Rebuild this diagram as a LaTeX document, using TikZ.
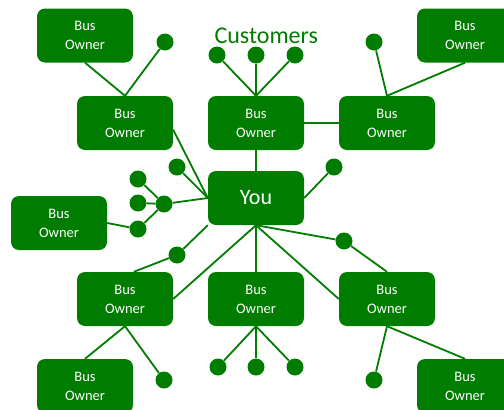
\documentclass[tikz,border=0pt]{standalone}
\usepackage{fontspec}
\setmainfont{Carlito}
\definecolor{busgreen}{RGB}{0,125,0}
\tikzset{
  owner/.style={fill=busgreen, rounded corners=8pt, minimum width=96pt,
    minimum height=54pt, inner sep=0pt, text=white, align=center,
    font=\fontsize{14.5}{19}\selectfont},
  cust/.style={circle, fill=busgreen, minimum size=17pt, inner sep=0pt},
  link/.style={draw=busgreen, line width=1.8pt}
}

\begin{document}
\begin{tikzpicture}[x=1pt, y=-1pt]

  \useasboundingbox (0,0) rectangle (504,410);
  \clip (0,0) rectangle (504,410);

  \node[owner] (oTL) at (85,35.5) {Bus\\Owner};
  \node[owner] (oTR) at (465,35.5) {Bus\\Owner};
  \node[owner] (oNW) at (125,123) {Bus\\Owner};
  \node[owner] (oN) at (256,123) {Bus\\Owner};
  \node[owner] (oNE) at (387,123) {Bus\\Owner};
  \node[owner, font=\fontsize{22}{26}\selectfont] (you) at (256,198) {You};
  \node[owner] (oW) at (59,223) {Bus\\Owner};
  \node[owner] (oSW) at (125,299) {Bus\\Owner};
  \node[owner] (oS) at (256,299) {Bus\\Owner};
  \node[owner] (oSE) at (387,299) {Bus\\Owner};
  \node[owner] (oBL) at (85,386) {Bus\\Owner};
  \node[owner] (oBR) at (465,386) {Bus\\Owner};

  \node[anchor=base west, text=busgreen, font=\fontsize{24}{27}\selectfont]
    (title) at (211,43) {Customers};

  \node[cust] (dTL) at (165,42) {};
  \node[cust] (c1) at (217,55) {};
  \node[cust] (c2) at (256,55) {};
  \node[cust] (c3) at (295,55) {};
  \node[cust] (dTR) at (374,42) {};
  \node[cust] (dA) at (177,167) {};
  \node[cust] (dYou) at (334,167) {};
  \node[cust] (hub) at (164,204) {};
  \node[cust] (l1) at (138,179) {};
  \node[cust] (l2) at (138,203) {};
  \node[cust] (l3) at (138,229) {};
  \node[cust] (dSW) at (177,255) {};
  \node[cust] (dSE) at (344,241) {};
  \node[cust] (b1) at (164,380) {};
  \node[cust] (s1) at (218,367) {};
  \node[cust] (s2) at (256,367) {};
  \node[cust] (s3) at (295,367) {};
  \node[cust] (b2) at (374,380) {};

  \draw[link] (oTL.south) -- (oNW.north);
  \draw[link] (dTL) -- (oNW.north);
  \foreach \c in {c1,c2,c3}
    \draw[link] (\c) -- (oN.north);
  \draw[link] (dTR) -- (oNE.north);
  \draw[link] (oTR.south) -- (oNE.north);
  \draw[link] (oN) -- (oNE);
  \draw[link] (oN) -- (you);

  \draw[link] (oNW.-8) -- (you.west);
  \draw[link] (dA) -- (you.west);
  \draw[link] (hub) -- (you.west);
  \foreach \l in {l1,l2,l3}
    \draw[link] (\l) -- (hub);
  \draw[link] (oW.east) -- (l3);
  \draw[link] (dYou) -- (you.east);

  \draw[link] (you.south west) -- (dSW);
  \draw[link] (dSW) -- (oSW.72);
  \draw[link] (you.south) -- (oSW.east);
  \draw[link] (you.south) -- (oS.north);
  \draw[link] (you.south) -- (oSE.west);
  \draw[link] (you.south) -- (dSE);
  \draw[link] (dSE) -- (oSE.north);

  \draw[link] (oSW.south) -- (oBL.north);
  \draw[link] (oSW.south) -- (b1);
  \foreach \s in {s1,s2,s3}
    \draw[link] (oS.south) -- (\s);
  \draw[link] (oSE.south) -- (b2);
  \draw[link] (oSE.south) -- (oBR.north);

\end{tikzpicture}
\end{document}
